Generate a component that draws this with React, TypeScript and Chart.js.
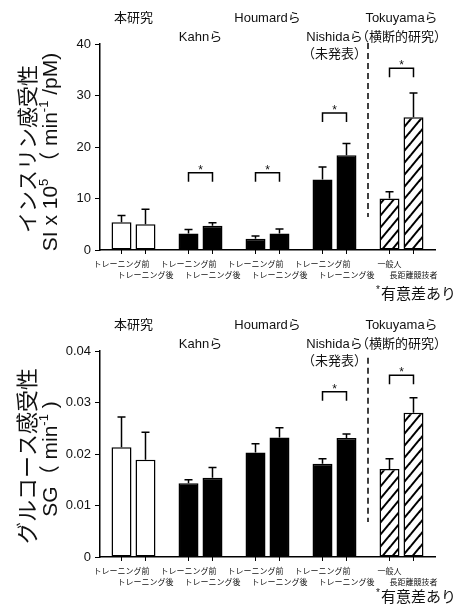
import React, { useEffect, useRef } from "react";
import { Chart, registerables } from "chart.js";

Chart.register(...registerables);

const FONT = "'Liberation Sans', 'Noto Sans CJK JP', sans-serif";
const JP = "'Noto Sans CJK JP', 'Liberation Sans', sans-serif";
const TEXT = "#111";

// ---- categories / labels ----
const groupNames = ["本研究", "Kahnら", "Houmardら", "Nishidaら", "Tokuyamaら"];
const groupNotes = ["", "", "", "（未発表）", "（横断的研究）"];
const groupTitleRow = [0, 1, 0, 1, 0];
const beforeLabels = ["トレーニング前", "トレーニング前", "トレーニング前", "トレーニング前", "一般人"];
const afterLabels = ["トレーニング後", "トレーニング後", "トレーニング後", "トレーニング後", "長距離競技者"];
const groupFillKind = ["white", "black", "black", "black", "hatch"];

// ---- insulin sensitivity SI ----
const siBefore = [5.4, 3.2, 2.2, 13.7, 10.0];
const siBeforeErr = [1.3, 0.8, 0.5, 2.4, 1.3];
const siAfter = [5.0, 4.7, 3.2, 18.4, 25.8];
const siAfterErr = [2.9, 0.6, 0.9, 2.3, 4.7];
const siSignif: (number | null)[] = [null, 15, 15, 26.6, 35.3];
const siDivider: [number, number] = [6.4, 40.2];
const siTicks = [0, 10, 20, 30, 40];

// ---- glucose effectiveness SG ----
const sgBefore = [0.0213, 0.0143, 0.0203, 0.0181, 0.0171];
const sgBeforeErr = [0.0059, 0.0007, 0.0017, 0.001, 0.002];
const sgAfter = [0.0189, 0.0154, 0.0232, 0.0231, 0.028];
const sgAfterErr = [0.0053, 0.002, 0.0019, 0.0008, 0.0029];
const sgSignif: (number | null)[] = [null, null, null, 0.0321, 0.0353];
const sgDivider: [number, number] = [0.0068, 0.0387];
const sgTicks = [0, 0.01, 0.02, 0.03, 0.04];

const noteText = "有意差あり";

type Part = { t: string; sup?: boolean };

interface Spec {
  before: number[];
  beforeErr: number[];
  after: number[];
  afterErr: number[];
  signif: (number | null)[];
  divider: [number, number];
  ticks: number[];
  fmt: (v: number) => string;
  title1: string;
  title1Size: number;
  title2: Part[];
  title2Size: number;
  height: number;
}

const siSpec: Spec = {
  before: siBefore,
  beforeErr: siBeforeErr,
  after: siAfter,
  afterErr: siAfterErr,
  signif: siSignif,
  divider: siDivider,
  ticks: siTicks,
  fmt: (v) => String(Math.round(v)),
  title1: "インスリン感受性",
  title1Size: 21,
  title2: [{ t: "SI x 10" }, { t: "5", sup: true }, { t: " （ min" }, { t: "-1", sup: true }, { t: " /pM)" }],
  title2Size: 21,
  height: 303,
};

const sgSpec: Spec = {
  before: sgBefore,
  beforeErr: sgBeforeErr,
  after: sgAfter,
  afterErr: sgAfterErr,
  signif: sgSignif,
  divider: sgDivider,
  ticks: sgTicks,
  fmt: (v) => (Math.abs(v) < 1e-9 ? "0" : v.toFixed(2)),
  title1: "グルコース感受性",
  title1Size: 22,
  title2: [{ t: "SG（ min" }, { t: "-1", sup: true }, { t: " )" }],
  title2Size: 21,
  height: 299,
};

function makeHatch(): CanvasPattern | string {
  const c = document.createElement("canvas");
  c.width = 10;
  c.height = 12;
  const g = c.getContext("2d");
  if (!g) return "#fff";
  g.fillStyle = "#fff";
  g.fillRect(0, 0, 10, 12);
  g.strokeStyle = "#000";
  g.lineWidth = 2;
  for (let k = -1; k <= 1; k++) {
    g.beginPath();
    g.moveTo(k * 10 - 10, 24);
    g.lineTo(k * 10 + 20, -12);
    g.stroke();
  }
  return g.createPattern(c, "repeat") || "#fff";
}

function drawRotated(ctx: CanvasRenderingContext2D, parts: Part[], size: number, family: string, cx: number, cy: number) {
  ctx.save();
  ctx.translate(cx, cy);
  ctx.rotate(-Math.PI / 2);
  const supSize = Math.round(size * 0.6);
  let total = 0;
  const widths = parts.map((p) => {
    ctx.font = `${p.sup ? supSize : size}px ${family}`;
    const w = ctx.measureText(p.t).width;
    total += w;
    return w;
  });
  let x = -total / 2;
  ctx.textAlign = "left";
  ctx.textBaseline = "middle";
  ctx.fillStyle = TEXT;
  parts.forEach((p, i) => {
    ctx.font = `${p.sup ? supSize : size}px ${family}`;
    ctx.fillText(p.t, x, p.sup ? -size * 0.33 : 0);
    x += widths[i];
  });
  ctx.restore();
}

function overlayPlugin(spec: Spec) {
  return {
    id: "overlay",
    afterDatasetsDraw(chart: any) {
      const ctx: CanvasRenderingContext2D = chart.ctx;
      const area = chart.chartArea;
      const xs = chart.scales.x;
      const ys = chart.scales.y;
      const m0 = chart.getDatasetMeta(0).data;
      const m1 = chart.getDatasetMeta(1).data;
      const base = ys.getPixelForValue(0);
      ctx.save();
      ctx.strokeStyle = "#000";

      // error bars + x ticks + x labels
      const sets: [any[], number[], number[], string[], number][] = [
        [m0, spec.before, spec.beforeErr, beforeLabels, 14],
        [m1, spec.after, spec.afterErr, afterLabels, 25],
      ];
      sets.forEach(([meta, vals, errs, labels, off]) => {
        meta.forEach((bar: any, i: number) => {
          const yv = ys.getPixelForValue(vals[i]);
          const top = ys.getPixelForValue(vals[i] + errs[i]);
          ctx.lineWidth = 1.5;
          ctx.beginPath();
          ctx.moveTo(bar.x, yv);
          ctx.lineTo(bar.x, top);
          ctx.moveTo(bar.x - 4, top);
          ctx.lineTo(bar.x + 4, top);
          ctx.stroke();
          ctx.lineWidth = 1;
          ctx.beginPath();
          ctx.moveTo(bar.x, base);
          ctx.lineTo(bar.x, base + 4);
          ctx.stroke();
          ctx.fillStyle = TEXT;
          ctx.font = `8px ${JP}`;
          ctx.textAlign = "center";
          ctx.textBaseline = "middle";
          ctx.fillText(labels[i], bar.x, base + off);
        });
      });

      // significance brackets
      spec.signif.forEach((lvl, i) => {
        if (lvl == null) return;
        const x1 = m0[i].x;
        const x2 = m1[i].x;
        const yb = ys.getPixelForValue(lvl);
        ctx.lineWidth = 1.5;
        ctx.beginPath();
        ctx.moveTo(x1, yb + 9);
        ctx.lineTo(x1, yb);
        ctx.lineTo(x2, yb);
        ctx.lineTo(x2, yb + 9);
        ctx.stroke();
        ctx.fillStyle = TEXT;
        ctx.font = `12px ${FONT}`;
        ctx.textAlign = "center";
        ctx.textBaseline = "alphabetic";
        ctx.fillText("*", (x1 + x2) / 2, yb + 1);
      });

      // divider
      const dx = (xs.getPixelForValue(3) + xs.getPixelForValue(4)) / 2;
      ctx.lineWidth = 1.5;
      ctx.setLineDash([6, 4]);
      ctx.beginPath();
      ctx.moveTo(dx, ys.getPixelForValue(spec.divider[1]));
      ctx.lineTo(dx, ys.getPixelForValue(spec.divider[0]));
      ctx.stroke();
      ctx.setLineDash([]);

      // group titles
      const rowY = [18, 37, 54];
      ctx.fillStyle = TEXT;
      ctx.font = `13px ${FONT}`;
      ctx.textAlign = "center";
      ctx.textBaseline = "middle";
      groupNames.forEach((name, i) => {
        const gx = xs.getPixelForValue(i);
        const r = groupTitleRow[i];
        ctx.fillText(name, gx, rowY[r]);
        if (groupNotes[i]) ctx.fillText(groupNotes[i], gx, rowY[r + 1]);
      });

      // y axis title
      const cy = (area.top + area.bottom) / 2 + 2;
      drawRotated(ctx, [{ t: spec.title1 }], spec.title1Size, JP, 27, cy);
      drawRotated(ctx, spec.title2, spec.title2Size, FONT, 51, cy + 3);

      // note
      ctx.fillStyle = TEXT;
      ctx.textAlign = "right";
      ctx.textBaseline = "middle";
      ctx.font = `15px ${JP}`;
      const ny = spec.height - 10;
      const nw = ctx.measureText(noteText).width;
      ctx.fillText(noteText, 456, ny);
      ctx.font = `10px ${FONT}`;
      ctx.fillText("*", 456 - nw - 1, ny - 3);

      ctx.restore();
    },
  };
}

function makeChart(canvas: HTMLCanvasElement, spec: Spec) {
  const hatch = makeHatch();
  const fills = groupFillKind.map((k) => (k === "white" ? "#fff" : k === "black" ? "#000" : hatch));
  const tmax = spec.ticks[spec.ticks.length - 1];
  const step = spec.ticks[1] - spec.ticks[0];
  return new Chart(canvas, {
    type: "bar",
    data: {
      labels: groupNames,
      datasets: [
        {
          label: "before",
          data: spec.before,
          backgroundColor: fills as any,
          borderColor: "#000",
          borderWidth: 1.5,
          borderSkipped: false,
          categoryPercentage: 0.716,
          barPercentage: 0.833,
        },
        {
          label: "after",
          data: spec.after,
          backgroundColor: fills as any,
          borderColor: "#000",
          borderWidth: 1.5,
          borderSkipped: false,
          categoryPercentage: 0.716,
          barPercentage: 0.833,
        },
      ],
    },
    options: {
      animation: false,
      responsive: false,
      devicePixelRatio: 1,
      layout: { padding: { top: 44, right: 24, left: 0, bottom: 0 } },
      plugins: { legend: { display: false }, tooltip: { enabled: false } },
      scales: {
        x: {
          type: "category",
          offset: true,
          grid: { display: false },
          ticks: { display: false },
          border: { display: true, color: "#000", width: 1.5 },
          afterFit: (s: any) => {
            s.height = spec.height - 250;
          },
        },
        y: {
          min: 0,
          max: tmax,
          afterBuildTicks: (s: any) => {
            s.ticks = spec.ticks.map((v) => ({ value: v }));
          },
          ticks: {
            stepSize: step,
            padding: 4,
            color: TEXT,
            font: { size: 13, family: FONT },
            callback: (v: any) => spec.fmt(Number(v)),
          },
          grid: { display: true, drawOnChartArea: false, drawTicks: true, tickLength: 5, color: "#000", lineWidth: 1 },
          border: { display: true, color: "#000", width: 1.5 },
          afterFit: (s: any) => {
            s.width = 100;
          },
        },
      },
    },
    plugins: [overlayPlugin(spec)],
  } as any);
}

export default function App() {
  const r1 = useRef<HTMLCanvasElement>(null);
  const r2 = useRef<HTMLCanvasElement>(null);
  useEffect(() => {
    const c1 = makeChart(r1.current as HTMLCanvasElement, siSpec);
    const c2 = makeChart(r2.current as HTMLCanvasElement, sgSpec);
    return () => {
      c1.destroy();
      c2.destroy();
    };
  }, []);
  return (
    <div style={{ position: "absolute", left: 0, top: 0, width: 459, height: 606, background: "#fff" }}>
      <canvas ref={r1} width={459} height={303} style={{ position: "absolute", left: 0, top: 0 }} />
      <canvas ref={r2} width={459} height={299} style={{ position: "absolute", left: 0, top: 307 }} />
    </div>
  );
}
